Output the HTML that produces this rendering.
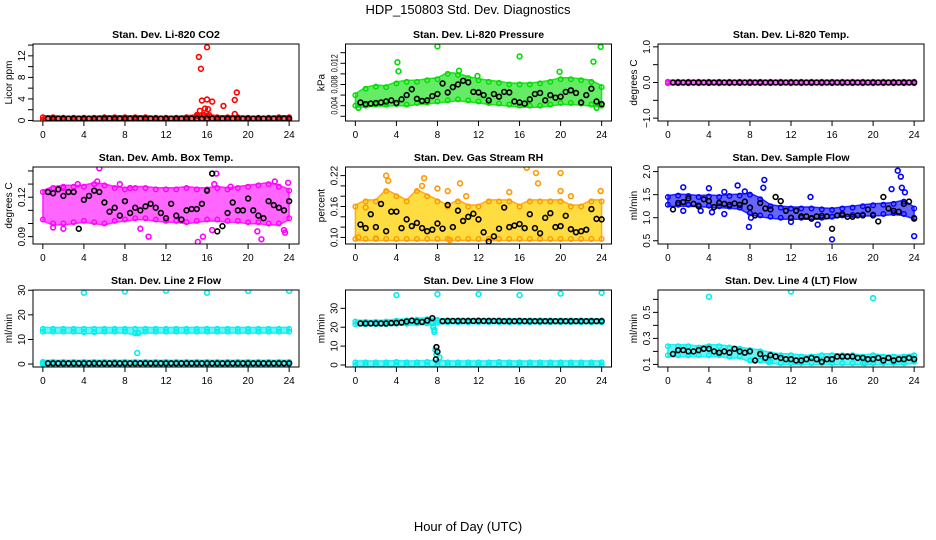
<!DOCTYPE html>
<html><head><meta charset="utf-8">
<style>
html,body{margin:0;padding:0;background:#fff;}
svg{display:block;font-family:"Liberation Sans",sans-serif;}
</style></head>
<body>
<svg id="chart" width="936" height="540" viewBox="0 0 936 540" xmlns="http://www.w3.org/2000/svg">
<text x="468" y="14" text-anchor="middle" font-size="13">HDP_150803  Std. Dev. Diagnostics</text>
<text x="468" y="531" text-anchor="middle" font-size="13">Hour of Day (UTC)</text>
<g id="panels"></g>
</svg>
<script>
// shared hour grids
const bandHours = [0,1,2,3,4,5,6,7,8,9,10,11,12,13,14,15,16,17,18,19,20,21,22,23,24];
const blackHours = [0.5,1,1.5,2,2.5,3,3.5,4,4.5,5,5.5,6,6.5,7,7.5,8,8.5,9,9.5,10,10.5,11,11.5,12,12.5,13,13.5,14,14.5,15,15.5,16,16.5,17,17.5,18,18.5,19,19.5,20,20.5,21,21.5,22,22.5,23,23.5,24];

// Panel 1: CO2
const co2Lo = [0.1,0.1,0.1,0.1,0.1,0.1,0.1,0.1,0.1,0.1,0.1,0.1,0.1,0.1,0.1,0.1,0.1,0.1,0.1,0.1,0.1,0.1,0.1,0.1,0.1];
const co2Hi = [0.6,0.6,0.5,0.5,0.5,0.5,0.6,0.6,0.6,0.6,0.6,0.5,0.5,0.5,0.6,0.8,0.9,0.6,0.6,0.6,0.5,0.5,0.5,0.6,0.6];
const co2OutX = [15.2,15.4,15.5,15.3,15.8,16.0,16.0,16.1,16.5,17.6,18.7,18.9,18.7,15.7,16.2,15.0];
const co2OutY = [11.8,9.6,3.7,1.8,2.2,13.6,3.9,2.1,3.5,2.7,3.8,5.2,1.2,1.0,1.0,1.0];
const co2Black = [0.35,0.35,0.35,0.35,0.35,0.35,0.35,0.35,0.35,0.35,0.35,0.35,0.35,0.35,0.35,0.35,0.35,0.35,0.35,0.35,0.35,0.35,0.35,0.35,0.35,0.35,0.35,0.35,0.35,0.35,0.35,0.35,0.35,0.35,0.35,0.35,0.35,0.35,0.35,0.35,0.35,0.35,0.35,0.35,0.35,0.35,0.35,0.35];

// Panel 2: Pressure
const presLo = [0.0040,0.0040,0.0042,0.0042,0.0043,0.0042,0.0045,0.0046,0.0048,0.0050,0.0052,0.0050,0.0048,0.0045,0.0044,0.0042,0.0040,0.0040,0.0040,0.0042,0.0045,0.0045,0.0044,0.0042,0.0040];
const presHi = [0.0060,0.0072,0.0076,0.0075,0.0082,0.0085,0.0085,0.0088,0.0090,0.0100,0.0098,0.0092,0.0088,0.0085,0.0083,0.0080,0.0080,0.0080,0.0082,0.0085,0.0090,0.0090,0.0088,0.0085,0.0075];
const presOutX = [0.3,4.1,4.2,8.0,10.1,11.9,16.0,19.9,23.2,23.9,23.5];
const presOutY = [0.0036,0.0122,0.0105,0.0152,0.0106,0.0096,0.0133,0.0104,0.0123,0.0151,0.0036];
const presBlack = [0.0046,0.0043,0.0044,0.0045,0.0046,0.0048,0.0050,0.0045,0.0052,0.0060,0.0071,0.0053,0.0049,0.0050,0.0058,0.0062,0.0082,0.0065,0.0075,0.0080,0.0087,0.0084,0.0066,0.0065,0.0060,0.0050,0.0062,0.0057,0.0066,0.0065,0.0048,0.0046,0.0044,0.0052,0.0062,0.0064,0.0050,0.0060,0.0055,0.0057,0.0066,0.0069,0.0064,0.0046,0.0060,0.0072,0.0048,0.0043];

// Panel 3: Li-820 Temp
const tempLo = [-0.02,-0.02,-0.02,-0.02,-0.02,-0.02,-0.02,-0.02,-0.02,-0.02,-0.02,-0.02,-0.02,-0.02,-0.02,-0.02,-0.02,-0.02,-0.02,-0.02,-0.02,-0.02,-0.02,-0.02,-0.02];
const tempHi = [0.02,0.02,0.02,0.02,0.02,0.02,0.02,0.02,0.02,0.02,0.02,0.02,0.02,0.02,0.02,0.02,0.02,0.02,0.02,0.02,0.02,0.02,0.02,0.02,0.02];
const tempBlack = [0,0,0,0,0,0,0,0,0,0,0,0,0,0,0,0,0,0,0,0,0,0,0,0,0,0,0,0,0,0,0,0,0,0,0,0,0,0,0,0,0,0,0,0,0,0,0,0];

// Panel 4: Amb Box Temp
const ambLo = [0.103,0.100,0.100,0.101,0.102,0.101,0.100,0.102,0.103,0.104,0.104,0.103,0.102,0.102,0.101,0.102,0.103,0.103,0.102,0.102,0.101,0.101,0.100,0.100,0.104];
const ambHi = [0.124,0.127,0.128,0.128,0.128,0.130,0.129,0.127,0.126,0.127,0.127,0.126,0.126,0.126,0.127,0.126,0.126,0.127,0.126,0.127,0.128,0.129,0.130,0.128,0.125];
const ambOutX = [1,2,3.4,5.5,5.3,7.5,10.3,15.1,15.6,16.5,16.9,16.7,18.3,20.9,21.3,22.6,23.5,23.6,23.9,8.5,9.5,2];
const ambOutY = [0.097,0.096,0.130,0.142,0.132,0.130,0.090,0.086,0.090,0.095,0.138,0.130,0.128,0.094,0.088,0.132,0.095,0.093,0.131,0.127,0.096,0.127];
const ambBlack = [0.124,0.123,0.126,0.121,0.124,0.124,0.096,0.118,0.121,0.125,0.124,0.116,0.109,0.112,0.106,0.117,0.108,0.112,0.110,0.113,0.115,0.112,0.108,0.104,0.115,0.106,0.103,0.110,0.111,0.111,0.115,0.125,0.138,0.094,0.098,0.108,0.116,0.110,0.110,0.119,0.110,0.106,0.104,0.117,0.114,0.112,0.110,0.117];

// Panel 5: Gas Stream RH
const rhLo = [0.097,0.097,0.097,0.097,0.097,0.097,0.097,0.097,0.097,0.097,0.097,0.097,0.097,0.097,0.097,0.097,0.097,0.097,0.097,0.097,0.097,0.097,0.097,0.097,0.097];
const rhHi = [0.16,0.17,0.17,0.19,0.18,0.17,0.19,0.18,0.17,0.16,0.17,0.16,0.16,0.17,0.17,0.17,0.16,0.17,0.17,0.17,0.17,0.16,0.16,0.17,0.17];
const rhOutX = [1,3,3.2,6.7,6.5,8,9,10.2,10.8,15,16.7,17.6,17.8,20,20,21,23.9,0.3,2,9.2];
const rhOutY = [0.158,0.22,0.21,0.215,0.20,0.195,0.19,0.205,0.18,0.188,0.235,0.225,0.205,0.225,0.19,0.18,0.19,0.10,0.098,0.095];
const rhBlack = [0.125,0.118,0.145,0.12,0.165,0.112,0.15,0.15,0.118,0.135,0.122,0.128,0.118,0.112,0.115,0.127,0.117,0.163,0.12,0.152,0.132,0.14,0.146,0.135,0.11,0.092,0.102,0.117,0.158,0.12,0.123,0.126,0.118,0.145,0.118,0.108,0.138,0.147,0.12,0.122,0.142,0.116,0.11,0.112,0.115,0.155,0.136,0.135];

// Panel 6: Sample Flow
const sfLo = [1.28,1.28,1.28,1.27,1.26,1.25,1.24,1.22,1.10,1.05,1.02,1.00,1.00,1.00,1.00,1.00,1.02,1.05,1.06,1.07,1.07,1.08,1.10,1.08,1.00];
const sfHi = [1.45,1.48,1.47,1.45,1.46,1.45,1.47,1.48,1.50,1.40,1.25,1.22,1.20,1.20,1.20,1.18,1.17,1.20,1.22,1.25,1.27,1.28,1.30,1.35,1.20];
const sfOutX = [1.5,1.5,4,5.5,6.8,7.5,7.9,8.1,9.4,9.3,12,13.9,14.6,16,21.8,22.4,22.7,22.8,23.1,24,4.3,5.5,3.2];
const sfOutY = [1.66,1.15,1.64,1.56,1.7,1.57,0.8,1.0,1.82,1.65,0.91,1.45,0.85,0.53,1.62,2.02,1.89,1.65,1.55,0.6,1.12,1.08,1.15];
const sfBlack = [1.18,1.32,1.34,1.42,1.3,1.25,1.4,1.36,1.23,1.32,1.3,1.28,1.31,1.28,1.35,1.22,1.05,1.32,1.2,1.18,1.45,1.36,1.15,1.0,1.15,1.03,1.03,0.98,1.03,1.04,1.03,0.76,1.05,1.08,1.02,1.02,1.05,1.05,1.18,1.05,0.92,1.45,1.2,1.15,1.13,1.3,1.35,0.98];

// Panel 7: Line 2 Flow
const l2Lo = [13.2,13.2,13.2,13.2,13.0,13.0,13.2,13.2,13.2,12.5,13.2,13.2,13.2,13.2,13.2,13.2,13.2,13.2,13.2,13.2,13.2,13.2,13.2,13.2,13.2];
const l2Hi = [14.3,14.3,14.3,14.3,14.3,14.3,14.3,14.3,14.3,14.3,14.3,14.3,14.3,14.3,14.3,14.3,14.3,14.3,14.3,14.3,14.3,14.3,14.3,14.3,14.3];
const l2Lo2 = [0,0,0,0,0,0,0,0,0,0,0,0,0,0,0,0,0,0,0,0,0,0,0,0,0];
const l2Hi2 = [0.9,0.9,0.9,0.9,0.9,0.9,0.9,0.9,0.9,0.9,0.9,0.9,0.9,0.9,0.9,0.9,0.9,0.9,0.9,0.9,0.9,0.9,0.9,0.9,0.9];
const l2OutX = [4,8,9.2,12,16,20,24,0,9.3];
const l2OutY = [29,29.5,4.5,29.8,29,29.7,29.7,0.5,12.5];
const l2Black = [0.3,0.3,0.3,0.3,0.3,0.3,0.3,0.3,0.3,0.3,0.3,0.3,0.3,0.3,0.3,0.3,0.3,0.3,0.3,0.3,0.3,0.3,0.3,0.3,0.3,0.3,0.3,0.3,0.3,0.3,0.3,0.3,0.3,0.3,0.3,0.3,0.3,0.3,0.3,0.3,0.3,0.3,0.3,0.3,0.3,0.3,0.3,0.3];

// Panel 8: Line 3 Flow
const l3Lo = [21.6,21.6,21.6,21.6,21.8,21.8,22.0,22.0,22.5,22.6,22.6,22.6,22.6,22.6,22.6,22.6,22.6,22.6,22.6,22.6,22.6,22.6,22.6,22.6,22.6];
const l3Hi = [23.0,22.8,22.8,23.0,23.4,23.6,24.0,24.2,23.8,23.6,23.6,23.6,23.6,23.6,23.6,23.6,23.6,23.6,23.6,23.6,23.6,23.6,23.6,23.6,23.6];
const l3Lo2 = [0,0,0,0,0,0,0,0,0,0,0,0,0,0,0,0,0,0,0,0,0,0,0,0,0];
const l3Hi2 = [1.4,1.4,1.4,1.4,1.6,1.4,1.4,1.6,1.6,1.4,1.4,1.4,1.4,1.4,1.6,1.4,1.4,1.4,1.4,1.4,1.4,1.4,1.4,1.4,1.4];
const l3OutX = [4,8,12,16,20,24,7.7,7.6,7.8,7.9,8.2,7.5,7.4,7.7];
const l3OutY = [37,37.5,37.5,37,37.8,38.2,17.5,20,8,5.5,4,22,22.5,18.5];
const l3Black = [22,22,22,22,22,22,22.2,22.3,22.5,23,23.5,23,22.8,23.5,24.8,7,23.2,23.3,23.3,23.3,23.3,23.3,23.3,23.4,23.3,23.3,23.3,23.3,23.2,23.2,23.2,23.3,23.2,23.2,23.2,23.2,23.2,23.2,23.2,23.2,23.2,23.2,23.2,23.2,23.2,23.2,23.2,23.2];
const l3BlackExtraX = [7.9,7.85];
const l3BlackExtraY = [9.5,3];

// Panel 9: Line 4 Flow
const l4Lo = [0.17,0.17,0.17,0.17,0.17,0.17,0.16,0.16,0.13,0.13,0.12,0.11,0.11,0.11,0.11,0.11,0.11,0.11,0.11,0.11,0.11,0.11,0.11,0.11,0.12];
const l4Hi = [0.24,0.24,0.24,0.23,0.24,0.24,0.23,0.22,0.21,0.2,0.18,0.17,0.17,0.16,0.16,0.17,0.17,0.17,0.17,0.16,0.17,0.16,0.16,0.16,0.17];
const l4OutX = [4,12,20,19.2,9.8];
const l4OutY = [0.62,0.66,0.61,0.11,0.12];
const l4Black = [0.18,0.21,0.21,0.2,0.2,0.21,0.22,0.22,0.2,0.19,0.2,0.19,0.22,0.2,0.19,0.2,0.13,0.18,0.15,0.17,0.16,0.15,0.14,0.14,0.13,0.13,0.14,0.15,0.14,0.12,0.14,0.14,0.16,0.16,0.16,0.16,0.15,0.15,0.14,0.14,0.15,0.13,0.15,0.13,0.14,0.14,0.15,0.14];

const xTicks = [0,4,8,12,16,20,24];

const panels = [
 {name:'co2',title:'Stan. Dev. Li-820 CO2',ylab:'Licor ppm',col:0,row:0,ymin:-0.1,ymax:14.2,ticks:[0,2,4,6,8,10,12,14],labels:[0,4,8,12],fmt:0,color:'#ff0000',bands:[[co2Lo,co2Hi]],outX:co2OutX,outY:co2OutY,black:co2Black},
 {name:'pressure',title:'Stan. Dev. Li-820 Pressure',ylab:'kPa',col:1,row:0,ymin:0.00111,ymax:0.01564,ticks:[0.002,0.004,0.006,0.008,0.010,0.012,0.014],labels:[0.004,0.008,0.012],fmt:3,color:'#00dd00',bands:[[presLo,presHi]],outX:presOutX,outY:presOutY,black:presBlack},
 {name:'li820-temp',title:'Stan. Dev. Li-820 Temp.',ylab:'degrees C',col:2,row:0,ymin:-1.08,ymax:1.08,ticks:[-1,-0.5,0,0.5,1],labels:[-1,0,1],fmt:1,color:'#ff00ff',bands:[[tempLo,tempHi]],outX:[],outY:[],black:tempBlack},
 {name:'amb-box-temp',title:'Stan. Dev. Amb. Box Temp.',ylab:'degrees C',col:0,row:1,ymin:0.0844,ymax:0.143,ticks:[0.09,0.10,0.11,0.12,0.13,0.14],labels:[0.09,0.12],fmt:2,color:'#ff00ff',bands:[[ambLo,ambHi]],outX:ambOutX,outY:ambOutY,black:ambBlack},
 {name:'gas-stream-rh',title:'Stan. Dev. Gas Stream RH',ylab:'percent',col:1,row:1,ymin:0.0872,ymax:0.2367,ticks:[0.10,0.12,0.14,0.16,0.18,0.20,0.22],labels:[0.10,0.16,0.22],fmt:2,color:'#ff9900',fill:'#ffd000',bands:[[rhLo,rhHi]],outX:rhOutX,outY:rhOutY,black:rhBlack},
 {name:'sample-flow',title:'Stan. Dev. Sample Flow',ylab:'ml/min',col:2,row:1,ymin:0.43,ymax:2.1,ticks:[0.5,1.0,1.5,2.0],labels:[0.5,1.0,1.5,2.0],fmt:1,color:'#0000ff',bands:[[sfLo,sfHi]],outX:sfOutX,outY:sfOutY,black:sfBlack},
 {name:'line2-flow',title:'Stan. Dev. Line 2 Flow',ylab:'ml/min',col:0,row:2,ymin:-1.2,ymax:30.1,ticks:[0,10,20,30],labels:[0,10,20,30],fmt:0,color:'#00eeee',bands:[[l2Lo,l2Hi],[l2Lo2,l2Hi2]],outX:l2OutX,outY:l2OutY,black:l2Black},
 {name:'line3-flow',title:'Stan. Dev. Line 3 Flow',ylab:'ml/min',col:1,row:2,ymin:-1.06,ymax:39.7,ticks:[0,10,20,30],labels:[0,10,20,30],fmt:0,color:'#00eeee',bands:[[l3Lo,l3Hi],[l3Lo2,l3Hi2]],outX:l3OutX,outY:l3OutY,black:l3Black,bx:l3BlackExtraX,by:l3BlackExtraY},
 {name:'line4-flow',title:'Stan. Dev. Line 4 (LT) Flow',ylab:'ml/min',col:2,row:2,ymin:0.08,ymax:0.672,ticks:[0.1,0.2,0.3,0.4,0.5,0.6],labels:[0.1,0.3,0.5],fmt:1,color:'#00eeee',bands:[[l4Lo,l4Hi]],outX:l4OutX,outY:l4OutY,black:l4Black}
];

const NS='http://www.w3.org/2000/svg';
const root=document.getElementById('panels');
function mk(tag,attrs,parent){const e=document.createElementNS(NS,tag);for(const k in attrs)e.setAttribute(k,attrs[k]);parent.appendChild(e);return e;}
const colX=[33,345.5,658], rowY=[44,167,290], W=266, H=77;

panels.forEach(p=>{
  const x1=colX[p.col], y1=rowY[p.row];
  const g=mk('g',{},root);
  
  
  const sx=v=>x1+(v+0.96)/25.92*W;
  const sy=v=>y1+H-(v-p.ymin)/(p.ymax-p.ymin)*H;
  const clipId='clip-'+p.name;
  const cp=mk('clipPath',{id:clipId},g);
  mk('rect',{x:x1,y:y1,width:W,height:H},cp);
  const data=mk('g',{'clip-path':'url(#'+clipId+')'},g);
  
  
  p.bands.forEach(([lo,hi])=>{
    let d='';
    bandHours.forEach((h,i)=>{d+=(i?'L':'M')+sx(h).toFixed(1)+','+(sy(hi[i])-1.5).toFixed(1);});
    for(let i=bandHours.length-1;i>=0;i--){d+='L'+sx(bandHours[i]).toFixed(1)+','+(sy(lo[i])+1.5).toFixed(1);}
    const band=mk('path',{d:d+'Z',fill:p.fill||p.color,'fill-opacity':p.fill?0.75:0.6,stroke:p.color,'stroke-width':1.5,'stroke-opacity':0.8,'stroke-linejoin':'round'},data);
    
    
    bandHours.forEach((h,i)=>{
      [lo[i],hi[i]].forEach(v=>{
        const c=mk('circle',{cx:sx(h),cy:sy(v),r:2.3,fill:'none',stroke:p.color,'stroke-width':1.4},data);
        
        
      });
    });
  });
  p.outX.forEach((xv,i)=>{
    const c=mk('circle',{cx:sx(xv),cy:sy(p.outY[i]),r:2.4,fill:'none',stroke:p.color,'stroke-width':1.6},data);
    
    
  });
  const n=Math.min(p.black.length,blackHours.length);
  for(let i=0;i<n;i++){
    const c=mk('circle',{cx:sx(blackHours[i]),cy:sy(p.black[i]),r:2.4,fill:'none',stroke:'#000','stroke-width':1.6},data);
    
    
  }
  if(p.bx){p.bx.forEach((xv,i)=>{
    const c=mk('circle',{cx:sx(xv),cy:sy(p.by[i]),r:2.4,fill:'none',stroke:'#000','stroke-width':1.6},data);
    
    
  });}
  const box=mk('rect',{x:x1,y:y1,width:W,height:H,fill:'none',stroke:'#000','stroke-width':1},g);
  
  
  const t=mk('text',{x:x1+W/2,y:y1-6,'text-anchor':'middle','font-size':10.5,'font-weight':'bold'},g);
  t.textContent=p.title;
  
  
  const xa=mk('g',{},g);
  
  
  mk('line',{x1:sx(0),x2:sx(24),y1:y1+H,y2:y1+H,stroke:'#000'},xa);
  xTicks.forEach(v=>{
    mk('line',{x1:sx(v),x2:sx(v),y1:y1+H,y2:y1+H+5,stroke:'#000'},xa);
    const l=mk('text',{x:sx(v),y:y1+H+17,'text-anchor':'middle','font-size':10},xa);
    l.textContent=v;
    
    
  });
  const ya=mk('g',{},g);
  
  
  mk('line',{x1:x1,x2:x1,y1:sy(p.ticks[0]),y2:sy(p.ticks[p.ticks.length-1]),stroke:'#000'},ya);
  p.ticks.forEach(v=>{mk('line',{x1:x1-5,x2:x1,y1:sy(v),y2:sy(v),stroke:'#000'},ya);});
  p.labels.forEach(v=>{
    const yy=sy(v);
    const txt=(v<0?'\u2212':'')+Math.abs(v).toFixed(p.fmt);
    const attrs={x:x1-8,y:yy,'text-anchor':'middle','font-size':10,transform:'rotate(-90 '+(x1-8)+' '+yy+')'};
    if(txt.length>=5){attrs.textLength=18;attrs.lengthAdjust='spacingAndGlyphs';attrs['font-size']=9;}
    const l=mk('text',attrs,ya);
    l.textContent=txt;
    
    
  });
  const yt=mk('text',{x:x1-21,y:y1+H/2,'text-anchor':'middle','font-size':10,transform:'rotate(-90 '+(x1-21)+' '+(y1+H/2)+')'},g);
  yt.textContent=p.ylab;
  
  
});
</script>
</body></html>
